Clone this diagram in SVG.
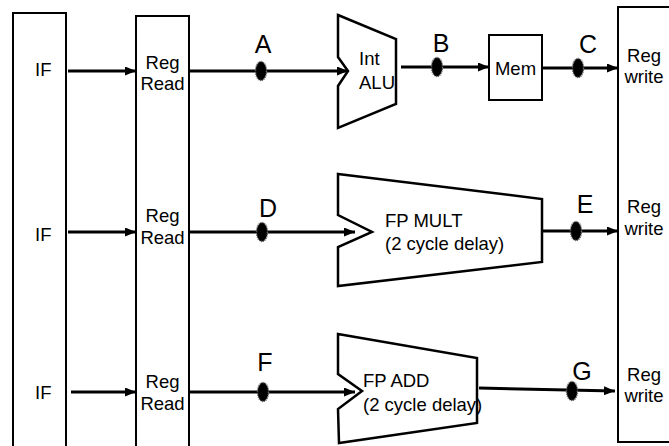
<svg xmlns="http://www.w3.org/2000/svg" width="669" height="446" viewBox="0 0 669 446">
<style>
.box{fill:#fff;stroke:#000;stroke-width:2}
.unit{fill:#fff;stroke:#000;stroke-width:2.5;stroke-linejoin:miter}
.t{font-family:"Liberation Sans",Arial,sans-serif;font-size:18.5px;fill:#000}
.m{text-anchor:middle}
.lbl{font-family:"Liberation Sans",Arial,sans-serif;font-size:25px;fill:#000;text-anchor:middle}
.wire{stroke:#000;stroke-width:3;fill:none}
.latch{fill:#000;stroke:#666;stroke-width:1.5;stroke-dasharray:1 1}
</style>
<defs>
<marker id="ah" markerWidth="11" markerHeight="9" refX="11" refY="4.5" orient="auto" markerUnits="userSpaceOnUse">
<path d="M0,0 L11,4.5 L0,9 Z" fill="#000"/>
</marker>
</defs>
<g id="if">
<rect class="box" x="13" y="13" width="53" height="450"/>
<text class="t" x="35" y="76">IF</text>
<text class="t" x="35" y="241">IF</text>
<text class="t" x="35" y="399">IF</text>
</g>
<g id="regread">
<rect class="box" x="136" y="16" width="53" height="450"/>
<text class="t m" x="162.5" y="69">Reg</text>
<text class="t m" x="162.5" y="90">Read</text>
<text class="t m" x="162.5" y="222">Reg</text>
<text class="t m" x="162.5" y="244">Read</text>
<text class="t m" x="162.5" y="388">Reg</text>
<text class="t m" x="162.5" y="410">Read</text>
</g>
<g id="regwrite">
<rect class="box" x="618" y="7" width="60" height="435"/>
<text class="t m" x="644" y="62">Reg</text>
<text class="t m" x="644" y="83">write</text>
<text class="t m" x="644" y="213">Reg</text>
<text class="t m" x="644" y="235">write</text>
<text class="t m" x="644" y="381">Reg</text>
<text class="t m" x="644" y="402">write</text>
</g>
<g id="intalu">
<path class="unit" d="M338,15 L396,39 L396,104 L338,128 L338,86 L348,71 L338,57 Z"/>
<text class="t" x="359" y="65">Int</text>
<text class="t" x="359" y="89">ALU</text>
</g>
<g id="mem">
<rect class="box" x="489" y="35" width="53" height="65"/>
<text class="t m" x="515.5" y="75">Mem</text>
</g>
<g id="fpmult">
<path class="unit" d="M338,174 L542,199 L542,262 L338,286 L338,247 L372,232 L338,215 Z"/>
<text class="t" x="385" y="227">FP MULT</text>
<text class="t" x="385" y="250">(2 cycle delay)</text>
</g>
<g id="fpadd">
<path class="unit" d="M338,334 L477,358 L477,423 L339,443 L338,409 L362,391 L338,374 Z"/>
<text class="t" x="363" y="387">FP ADD</text>
<text class="t" x="363" y="411">(2 cycle delay)</text>
</g>
<g id="connectors">
<line class="wire" x1="68" y1="71" x2="136" y2="71" marker-end="url(#ah)"/>
<line class="wire" x1="189" y1="71" x2="348" y2="71" marker-end="url(#ah)"/>
<line class="wire" x1="401" y1="67" x2="489" y2="67" marker-end="url(#ah)"/>
<line class="wire" x1="542" y1="68" x2="618" y2="68" marker-end="url(#ah)"/>
<line class="wire" x1="68" y1="232" x2="136" y2="232" marker-end="url(#ah)"/>
<line class="wire" x1="189" y1="232" x2="355" y2="232" marker-end="url(#ah)"/>
<line class="wire" x1="542" y1="231" x2="618" y2="231" marker-end="url(#ah)"/>
<line class="wire" x1="71" y1="392" x2="136" y2="392" marker-end="url(#ah)"/>
<line class="wire" x1="189" y1="392" x2="355" y2="392" marker-end="url(#ah)"/>
<line class="wire" x1="479" y1="388" x2="615" y2="391" marker-end="url(#ah)"/>
</g>
<g id="latches">
<ellipse class="latch" cx="261" cy="71" rx="5.5" ry="9.5"/>
<ellipse class="latch" cx="437" cy="67" rx="5.5" ry="9.5"/>
<ellipse class="latch" cx="578" cy="68" rx="5.5" ry="9.5"/>
<ellipse class="latch" cx="262" cy="232" rx="5.5" ry="9.5"/>
<ellipse class="latch" cx="576" cy="231" rx="5.5" ry="9.5"/>
<ellipse class="latch" cx="263" cy="392" rx="5.5" ry="9.5"/>
<ellipse class="latch" cx="572" cy="391" rx="5.5" ry="9.5"/>
</g>
<g id="labels">
<text class="lbl" x="263" y="53">A</text>
<text class="lbl" x="441" y="52">B</text>
<text class="lbl" x="588" y="53">C</text>
<text class="lbl" x="268" y="217">D</text>
<text class="lbl" x="585" y="213">E</text>
<text class="lbl" x="265" y="371">F</text>
<text class="lbl" x="582" y="380">G</text>
</g>
</svg>
